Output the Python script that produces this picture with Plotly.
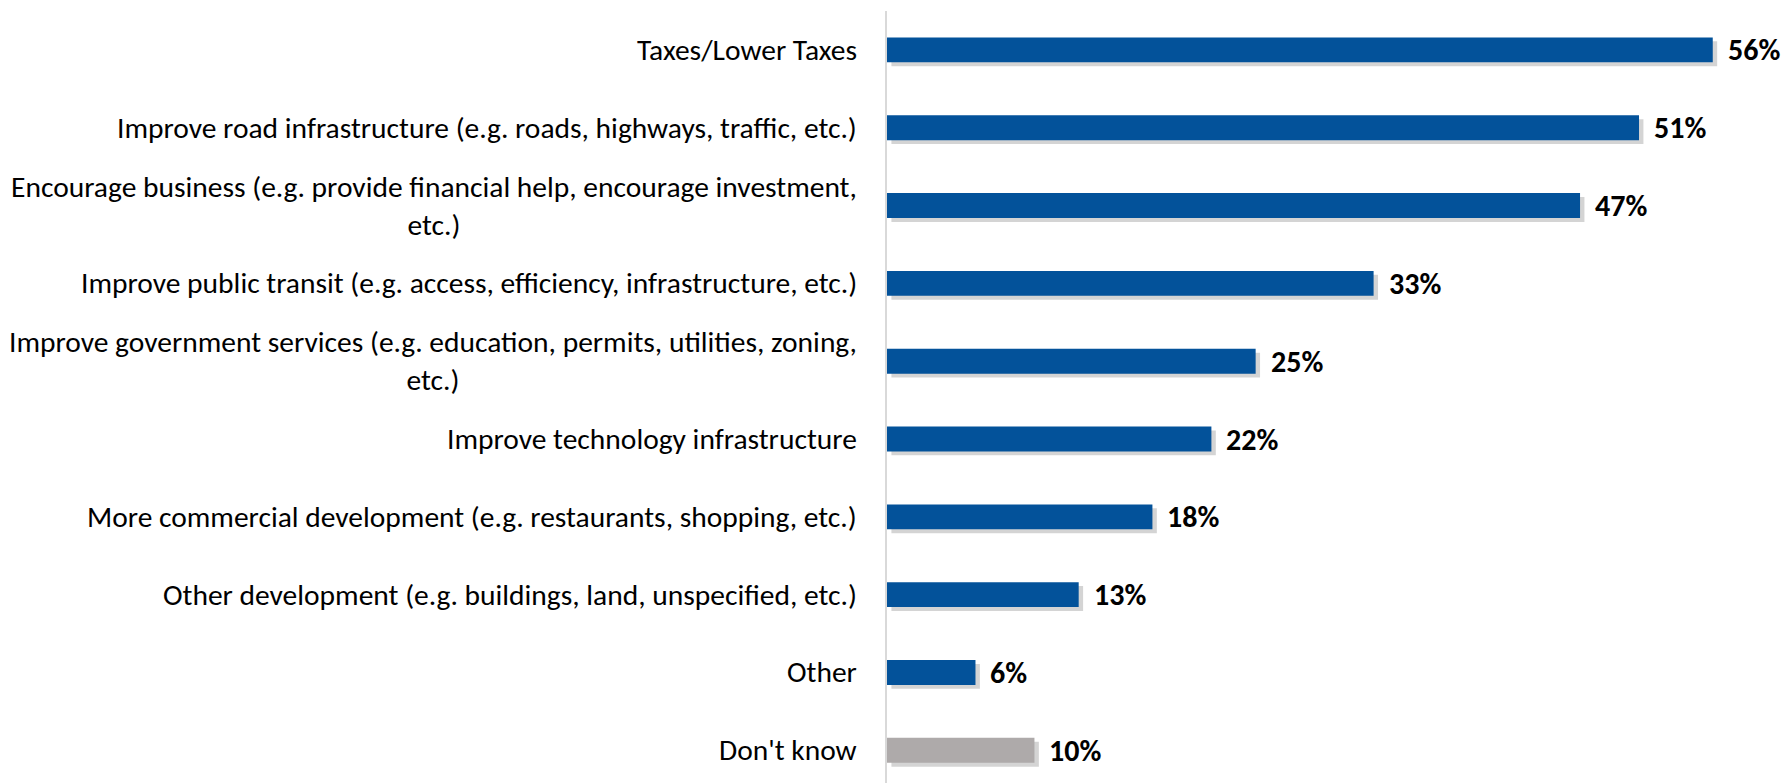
import plotly.graph_objects as go

categories = [
    "Taxes/Lower Taxes",
    "Improve road infrastructure (e.g. roads, highways, traffic, etc.)",
    "Encourage business (e.g. provide financial help, encourage investment,<br>etc.)",
    "Improve public transit (e.g. access, efficiency, infrastructure, etc.)",
    "Improve government services (e.g. education, permits, utilities, zoning,<br>etc.)",
    "Improve technology infrastructure",
    "More commercial development (e.g. restaurants, shopping, etc.)",
    "Other development (e.g. buildings, land, unspecified, etc.)",
    "Other",
    "Don't know",
]
values = [56, 51, 47, 33, 25, 22, 18, 13, 6, 10]

BLUE = "#03529A"
GREY = "#AEAAAA"
bar_colors = [BLUE] * 9 + [GREY]

FONT = "Carlito, Calibri, Lato, sans-serif"

fig = go.Figure()

# soft drop shadow under each bar
fig.add_trace(go.Bar(
    y=categories, x=values, base=0.3, orientation="h",
    width=0.32, offset=-0.11,
    marker=dict(color="rgba(0,0,0,0.17)", line=dict(width=0)),
    hoverinfo="skip",
))
fig.add_trace(go.Bar(
    y=categories, x=values, orientation="h",
    width=0.32, offset=-0.16,
    marker=dict(color=bar_colors, line=dict(width=0)),
))

for cat, val in zip(categories, values):
    fig.add_annotation(
        x=0, xref="paper", y=cat, yref="y", text=cat,
        xanchor="right", xshift=-28, align="center", showarrow=False,
        font=dict(family=FONT, size=29.5, color="#000000"),
    )
    fig.add_annotation(
        x=val, y=cat, text=f"{val}%", xanchor="left", xshift=13,
        showarrow=False,
        font=dict(family=FONT, size=30, color="#000000", weight="bold"),
    )

fig.update_layout(
    width=1785, height=783,
    margin=dict(l=887, r=0, t=11, b=0),
    barmode="overlay",
    showlegend=False,
    plot_bgcolor="white",
    paper_bgcolor="white",
    font=dict(family=FONT),
    xaxis=dict(range=[0, 60.9], visible=False),
    yaxis=dict(
        categoryorder="array", categoryarray=categories,
        range=[9.42, -0.5], showticklabels=False, showgrid=False,
        showline=True, linecolor="#D9D9D9", linewidth=2, zeroline=False,
    ),
)

fig.write_html("out.html", config={"displayModeBar": False},
               post_script="document.body.style.margin='0';")
